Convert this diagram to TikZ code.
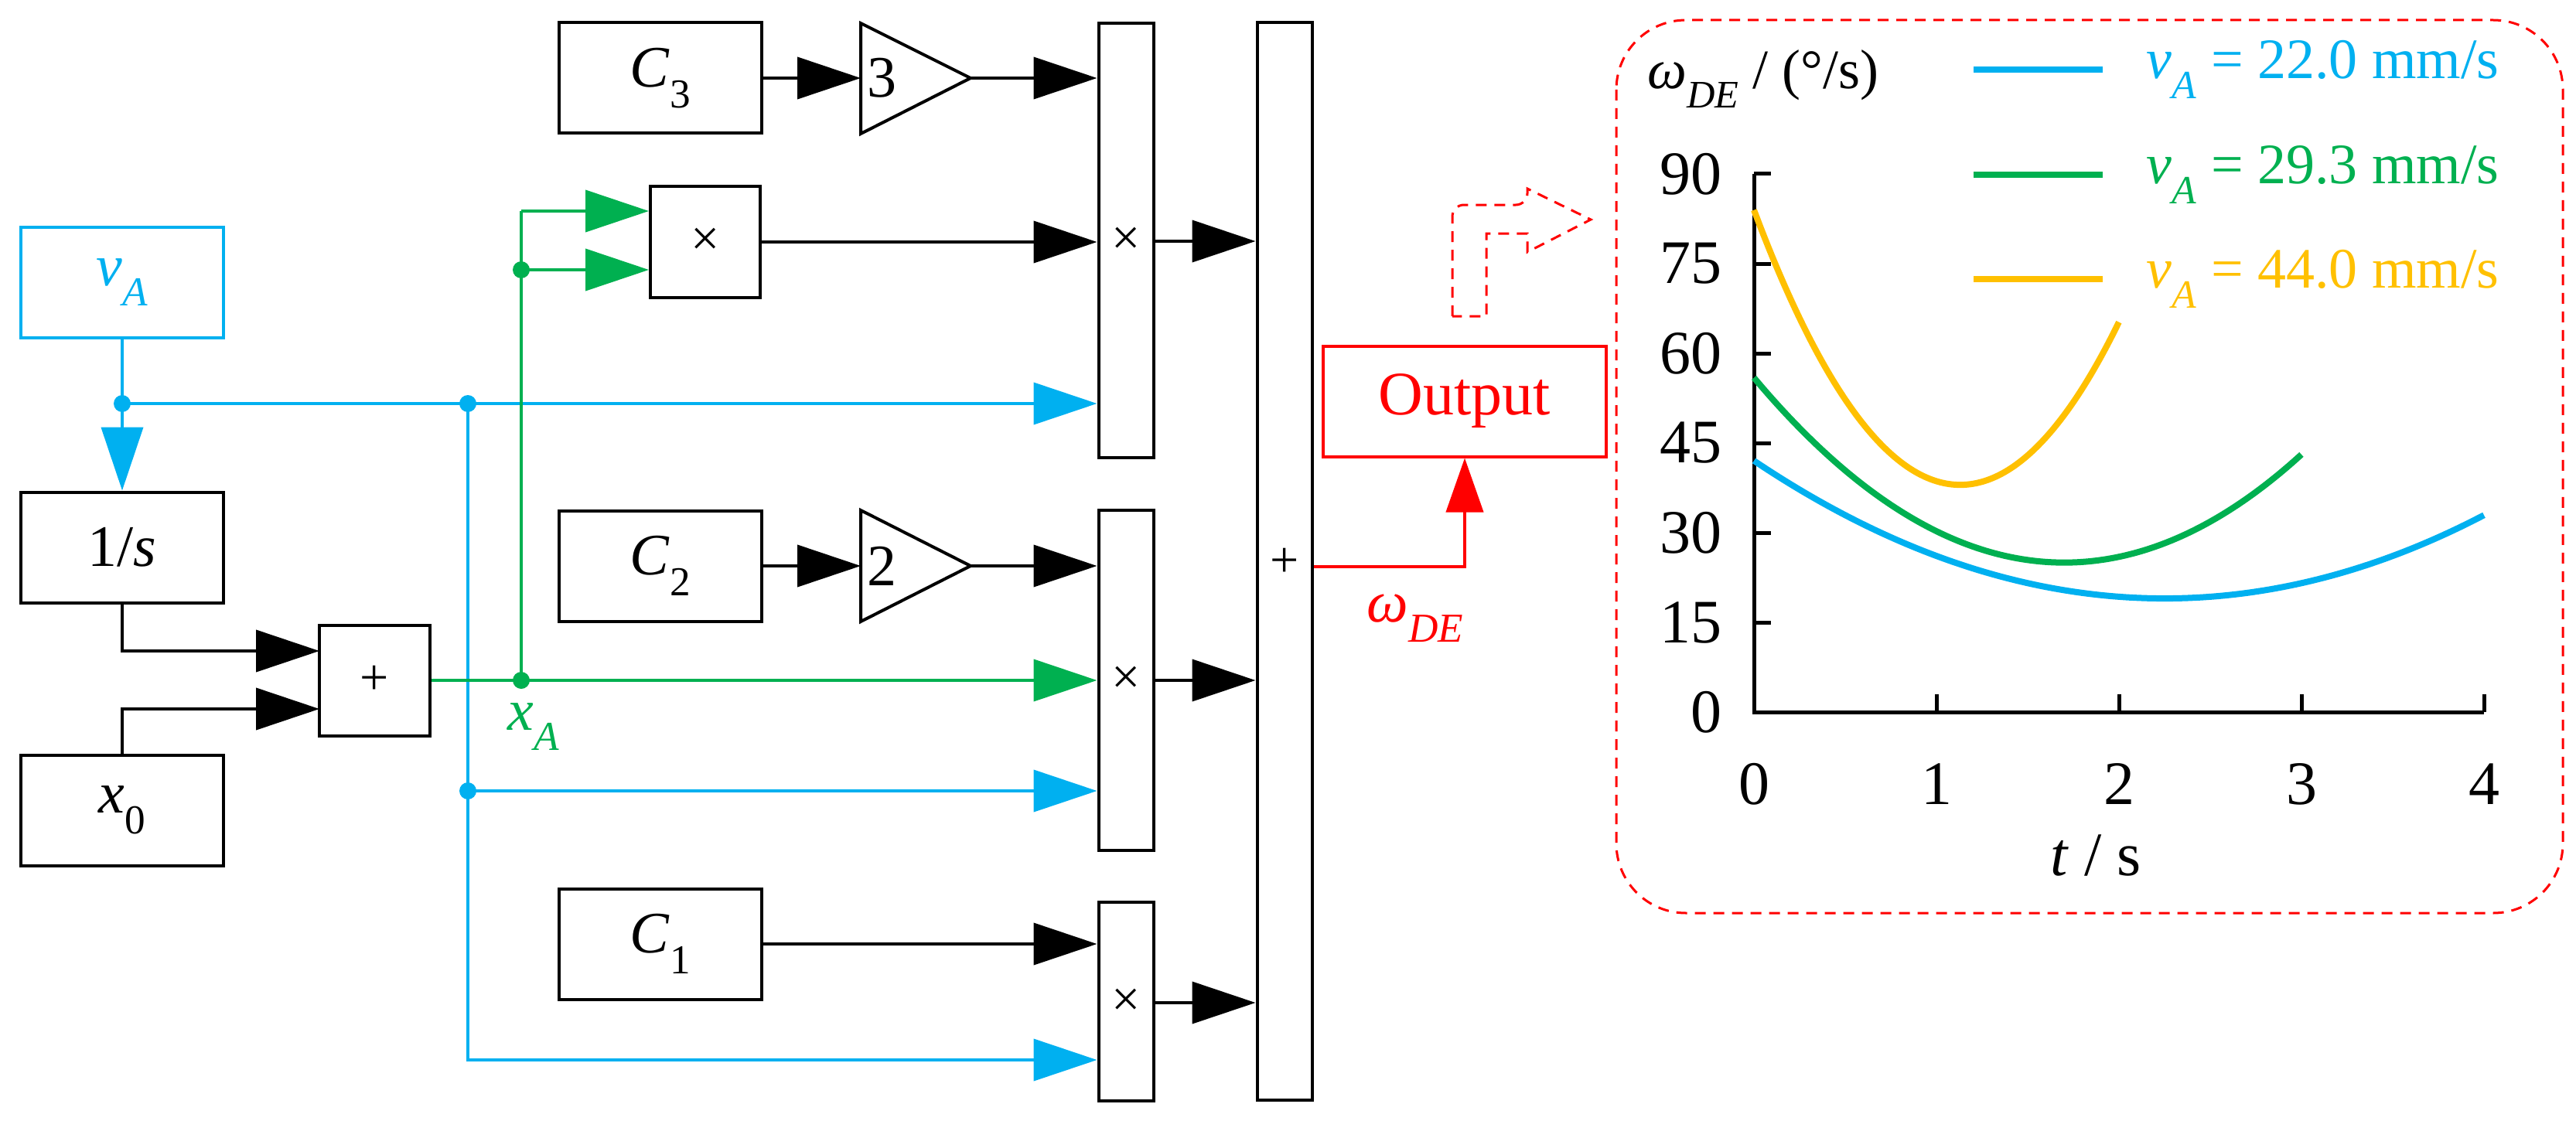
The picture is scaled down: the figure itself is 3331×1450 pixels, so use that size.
\documentclass[tikz,border=0pt]{standalone}
\usepackage{fontspec}
\setmainfont{Liberation Serif}
\usetikzlibrary{arrows.meta,shapes.geometric}
\definecolor{cb}{RGB}{0,176,240}
\definecolor{cg}{RGB}{0,176,80}
\definecolor{cy}{RGB}{255,192,0}
\definecolor{cr}{RGB}{255,0,0}
\newcommand{\vsub}[2]{\textit{#1}\textsubscript{\textit{#2}}}
\newcommand{\nsub}[2]{\textit{#1}\textsubscript{#2}}
\begin{document}
\begin{tikzpicture}[x=1pt,y=-1pt,line width=4pt,
  font=\fontsize{76}{80}\selectfont,
  box/.style={draw,line width=4pt,inner sep=0pt,minimum width=#1},
  box/.default=262pt,
  op/.style={font=\fontsize{66}{70}\selectfont},
  tip/.style={-{Triangle[length=82pt,width=54pt]}},
  dot/.style={circle,fill,inner sep=0pt,minimum size=22pt}]
\useasboundingbox (0,0) rectangle (3331,1450);
% boxes
\node[box,minimum height=143pt] (C3) at (854,101) {\nsub{C}{3}};
\node[box,minimum height=143pt] (C2) at (854,732) {\nsub{C}{2}};
\node[box,minimum height=143pt] (C1) at (854,1221) {\nsub{C}{1}};
\node[box,draw=cb,text=cb,minimum height=143pt] (vA) at (158,365) {\vsub{v}{A}};
\node[box,minimum height=143pt] (int) at (158,708) {1/\textit{s}};
\node[box,minimum height=143pt] (x0) at (158,1048) {\nsub{x}{0}};
\node[box=143pt,minimum height=143pt,op] (sum1) at (484,880) {+};
\node[box=142pt,minimum height=143pt,op] (mx) at (912,313) {×};
\node[box=71pt,minimum height=562pt] (m1) at (1456,311) {};
\node[box=71pt,minimum height=440pt] (m2) at (1456,880) {};
\node[box=71pt,minimum height=257pt] (m3) at (1456,1295) {};
\node[box=71pt,minimum height=1393pt] (S) at (1661,726) {};
\begin{scope}[op]
\node (m1l) at (1456,312) {×};
\node (m2l) at (1456,880) {×};
\node (m3l) at (1456,1297) {×};
\node (Sl) at (1661,728) {+};
\end{scope}
% gains
\draw (1113,30) -- (1255,101) -- (1113,173) -- cycle;
\draw (1113,660) -- (1255,732) -- (1113,804) -- cycle;
\node[anchor=west,inner sep=6pt] (g3) at (1113,101) {3};
\node[anchor=west,inner sep=6pt] (g2) at (1113,732) {2};
\coordinate (g3i) at (1113,101); \coordinate (g3o) at (1255,101);
\coordinate (g2i) at (1113,732); \coordinate (g2o) at (1255,732);
% black connectors
\draw[tip] (C3.east) -- (g3i);
\draw[tip] (g3o) -- (m1.west|-g3o);
\draw[tip] (C2.east) -- (g2i);
\draw[tip] (g2o) -- (m2.west|-g2o);
\draw[tip] (mx.east) -- (m1.west|-mx.east);
\draw[tip] (C1.east) -- (m3.west|-C1.east);
\draw[tip] (m1.east|-m1l) -- (S.west|-m1l);
\draw[tip] (m2.east|-m2l) -- (S.west|-m2l);
\draw[tip] (m3.east|-m3l) -- (S.west|-m3l);
\coordinate (a1) at (413,842); \coordinate (a2) at (413,917);
\draw[tip] (int.south) |- (a1);
\draw[tip] (x0.north) |- (a2);
% blue
\begin{scope}[cb,draw=cb]
\coordinate (j1) at (158,522); \coordinate (j2) at (605,522); \coordinate (j3) at (605,1023);
\draw[tip] (vA.south) -- (int.north);
\draw[tip] (j1) -- (m1.west|-j1);
\draw[tip] (j2) |- (m3.west|-0,1371);
\draw[tip] (j3) -- (m2.west|-j3);
\node[dot] (d1) at (j1) {}; \node[dot] (d2) at (j2) {}; \node[dot] (d3) at (j3) {};
\end{scope}
% green
\begin{scope}[cg,draw=cg]
\coordinate (j4) at (674,880); \coordinate (j5) at (674,349);
\draw[tip] (sum1.east) -- (m2.west|-sum1.east);
\draw (j4) -- (674,273);
\draw[tip] (674,273) -- (mx.west|-0,273);
\draw[tip] (j5) -- (mx.west|-j5);
\node[dot] (d4) at (j4) {}; \node[dot] (d5) at (j5) {};
\node[text=cg] (xA) at (690,940) {\vsub{x}{A}};
\end{scope}
% output
\node[box=366pt,draw=cr,text=cr,minimum height=143pt,font=\fontsize{80}{84}\selectfont] (out) at (1894,519) {Output};
\draw[cr,-{Triangle[length=70pt,width=48pt]}] (S.east|-0,733) -| (out.south);
\node[text=cr] (wl) at (1830,800) {\vsub{ω}{DE}};
\draw[cr,line width=3pt,dash pattern=on 14pt off 10pt,rounded corners=15pt] (1878,409) -- (1878,265) -- (1975,265) [sharp corners] -- (1975,244) -- (2057,284) -- (1975,326) -- (1975,302) -- (1922,302) -- (1922,409) -- cycle;
\draw[cr,line width=3pt,dash pattern=on 14pt off 10pt,rounded corners=90pt] (2090,26) rectangle (3314,1181);
% plot
\begin{scope}[font=\fontsize{80}{84}\selectfont]
\coordinate (O) at (2268,921);
\draw[line width=5pt] (2268,225) -- (O) -- (3212,921);
\foreach \v [count=\i from 0] in {0,15,...,90} {
  \draw[line width=5pt] (2268,921-\i*116) -- (2290,921-\i*116);
  \node[anchor=east] (yl\i) at (2232,921-\i*116) {\v};}
\foreach \t in {0,1,2,3,4} {
  \ifnum\t>0 \draw[line width=5pt] (2268+\t*236,921) -- (2268+\t*236,898);\fi
  \node (xl\t) at (2268+\t*236,1014) {\t};}
\node (xt) at (2710,1107) {\textit{t} / s};
\node[anchor=west,font=\fontsize{72}{76}\selectfont] (yt) at (2125,102) {\vsub{ω}{DE} / (°/s)};
\draw[cb,line width=8pt] plot[domain=0:4,samples=60,smooth] ({2268+\x*236},{921-7.733*(4.55*(\x-2.25)*(\x-2.25)+19)});
\draw[cg,line width=8pt] plot[domain=0:3,samples=60,smooth] ({2268+\x*236},{921-7.733*(10.7*(\x-1.7)*(\x-1.7)+25)});
\draw[cy,line width=8pt] plot[domain=0:2,samples=60,smooth] ({2268+\x*236},{921-7.733*(36*(\x-1.13)*(\x-1.13)+38)});
\draw[cb,line width=8pt] (2552,90) -- (2719,90);
\draw[cg,line width=8pt] (2552,226) -- (2719,226);
\draw[cy,line width=8pt] (2552,361) -- (2719,361);
\begin{scope}[font=\fontsize{74}{78}\selectfont]
\node[anchor=west,text=cb] (lg1) at (2770,90) {\vsub{v}{A} = 22.0 mm/s};
\node[anchor=west,text=cg] (lg2) at (2770,226) {\vsub{v}{A} = 29.3 mm/s};
\node[anchor=west,text=cy] (lg3) at (2770,361) {\vsub{v}{A} = 44.0 mm/s};
\end{scope}
\end{scope}
\end{tikzpicture}
\end{document}
